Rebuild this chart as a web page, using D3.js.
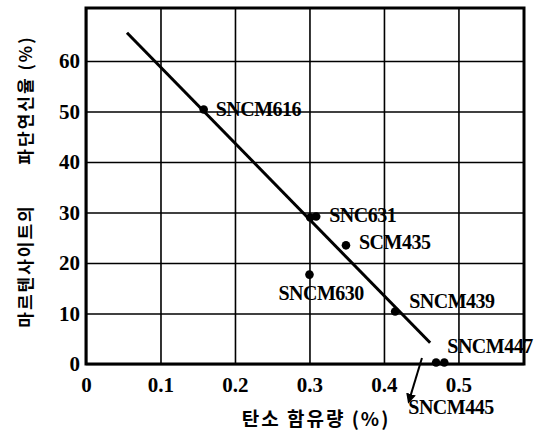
<!DOCTYPE html>
<meta charset="utf-8">
<style>
body { margin: 0; background: #fff; }
.grid line { stroke: #000; stroke-width: 1.6; }
.grid path { display: none; }
.tick text { font-family: "Liberation Serif", "Times New Roman", serif; font-weight: bold; font-size: 21px; fill: #000; }
.lbl { font-family: "Liberation Serif", "Times New Roman", serif; font-weight: bold; font-size: 20px; letter-spacing: -0.5px; }
.kor { font-family: "Noto Sans CJK KR", sans-serif; font-weight: bold; }
</style>
<svg width="543" height="430"></svg>
<script src="https://cdn.jsdelivr.net/npm/d3@7/dist/d3.min.js"></script>
<script>

// steel grades, carbon content (%) and martensite elongation (%)
var names  = ["SNCM616", "SNC631", "SNC631", "SCM435", "SNCM630", "SNCM439", "SNCM447", "SNCM447"];
var carbon = [0.158, 0.301, 0.309, 0.349, 0.300, 0.415, 0.470, 0.481];
var elong  = [50.4, 29.0, 29.2, 23.5, 17.7, 10.4, 0.3, 0.3];

// fitted line end points
var fitC = [0.055, 0.462];
var fitE = [65.6, 4.2];

// SNCM445 arrow (off the chart, below zero)
var arrowC = [0.451, 0.434];
var arrowE = [1.2, -7.1];

var xTicks = [0, 0.1, 0.2, 0.3, 0.4, 0.5];
var yTicks = [0, 10, 20, 30, 40, 50, 60];

var svg = d3.select("svg"),
    box = {left: 86, right: 524, top: 8, bottom: 364};

var x = d3.scaleLinear().domain([0, 0.588]).range([box.left, box.right]),
    y = d3.scaleLinear().domain([0, 70.5]).range([box.bottom, box.top]);

svg.append("defs").append("marker")
    .attr("id", "head")
    .attr("viewBox", "0 0 10 10")
    .attr("refX", 6).attr("refY", 5)
    .attr("markerWidth", 5).attr("markerHeight", 5)
    .attr("orient", "auto")
  .append("path")
    .attr("d", "M0,0L10,5L0,10z");

svg.append("g")
    .attr("class", "grid")
    .attr("transform", "translate(0," + box.bottom + ")")
    .call(d3.axisBottom(x).tickValues(xTicks)
        .tickSize(-(box.bottom - box.top)).tickPadding(13)
        .tickFormat(function(d) { return d === 0 ? "0" : d3.format(".1f")(d); }));

svg.append("g")
    .attr("class", "grid")
    .attr("transform", "translate(" + box.left + ",0)")
    .call(d3.axisLeft(y).tickValues(yTicks)
        .tickSize(-(box.right - box.left)).tickPadding(6));

svg.append("rect")
    .attr("x", box.left).attr("y", box.top)
    .attr("width", box.right - box.left).attr("height", box.bottom - box.top)
    .attr("fill", "none").attr("stroke", "#000").attr("stroke-width", 3);

svg.append("line")
    .attr("x1", x(fitC[0])).attr("y1", y(fitE[0]))
    .attr("x2", x(fitC[1])).attr("y2", y(fitE[1]))
    .attr("stroke", "#000").attr("stroke-width", 3);

svg.selectAll(".pt")
    .data(carbon)
  .enter().append("circle")
    .attr("class", "pt")
    .attr("cx", function(d) { return x(d); })
    .attr("cy", function(d, i) { return y(elong[i]); })
    .attr("r", 4.3);

svg.append("line")
    .attr("x1", x(arrowC[0])).attr("y1", y(arrowE[0]))
    .attr("x2", x(arrowC[1])).attr("y2", y(arrowE[1]))
    .attr("stroke", "#000").attr("stroke-width", 2)
    .attr("marker-end", "url(#head)");

// label offsets from their point, in px
var labelIdx = [0, 2, 3, 4, 5, 7];
var labelDx  = [12, 13, 13, -31, 14, 3];
var labelDy  = [7, 5, 4, 25, -3, -9];

svg.selectAll(".lbl")
    .data(labelIdx)
  .enter().append("text")
    .attr("class", "lbl")
    .attr("x", function(d, i) { return x(carbon[d]) + labelDx[i]; })
    .attr("y", function(d, i) { return y(elong[d]) + labelDy[i]; })
    .text(function(d) { return names[d]; });

svg.append("text")
    .attr("class", "lbl")
    .attr("x", x(arrowC[1]) - 1)
    .attr("y", y(arrowE[1]) + 14)
    .text("SNCM445");

svg.append("text")
    .attr("class", "kor")
    .attr("x", 316).attr("y", 426)
    .attr("text-anchor", "middle")
    .style("font-size", "19px").style("letter-spacing", "2px")
    .text("탄소 함유량 (%)");

svg.append("text")
    .attr("class", "kor")
    .attr("transform", "translate(24,266) rotate(-90)")
    .attr("text-anchor", "middle").attr("dominant-baseline", "central")
    .style("font-size", "17px").style("letter-spacing", "2px")
    .text("마르텐사이트의");

svg.append("text")
    .attr("class", "kor")
    .attr("transform", "translate(24,100) rotate(-90)")
    .attr("text-anchor", "middle").attr("dominant-baseline", "central")
    .style("font-size", "17px").style("letter-spacing", "2px")
    .text("파단연신율 (%)");

</script>
